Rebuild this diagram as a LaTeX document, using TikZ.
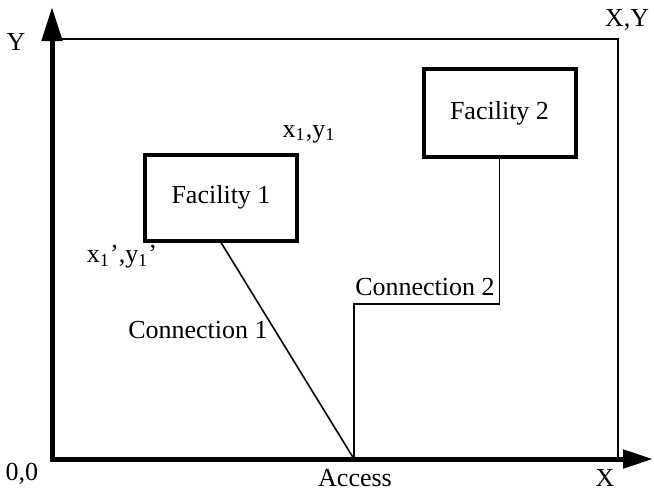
\documentclass[tikz,border=0pt]{standalone}
\usepackage{fontspec}
\setmainfont{Liberation Serif}
\usetikzlibrary{positioning, arrows.meta}

\begin{document}
\begin{tikzpicture}[x=0.5pt, y=-0.5pt, every node/.style={font=\fontsize{13}{15}\selectfont}]
    \useasboundingbox (0,0) rectangle (654,493);

    % Define styles
    \tikzset{
        facility/.style={draw, line width=2pt, minimum width=76pt, minimum height=43pt, inner sep=0pt},
        axis/.style={line width=2.5pt, {Triangle[length=17pt, width=10pt]}-{Triangle[length=15pt, width=9pt]}},
        border/.style={line width=1pt},
        link/.style={line width=0.8pt}
    }

    % Define nodes
	\coordinate (Origin) at (52, 459);
	\coordinate (YEnd) at (52, 7);
	\coordinate (XEnd) at (653, 459);
	\coordinate (TopLeft) at (52, 39);
	\coordinate (TopRight) at (618, 39);
	\coordinate (BottomRight) at (618, 459);
	\coordinate (Access) at (354, 459);
	\coordinate (Bend) at (354, 304);
	\node[facility] (Facility1) at (221, 197.5) {Facility 1};
	\node[facility, minimum height=44pt] (Facility2) at (499.5, 113) {Facility 2};

    % Axis and corner labels
	\node (YLabel) at (16, 42) {Y};
	\node (XLabel) at (605, 478) {X};
	\node (OriginLabel) at (22, 474) {0,0};
	\node (CornerLabel) at (627, 20) {X,Y};
	\node (AccessLabel) at (355, 478) {Access};
	\node (TopCorner) at (309, 134) {x\textsubscript{1},y\textsubscript{1}};
	\node (BottomCorner) at (122, 257) {x\textsubscript{1}',y\textsubscript{1}'};
	\node (Conn1Label) at (198, 330) {Connection 1};
	\node (Conn2Label) at (425, 287) {Connection 2};

    % Draw axes, border and connections
	\draw[axis] (YEnd) -- (Origin) -- (XEnd);
	\draw[border] (TopLeft) -- (TopRight) -- (BottomRight);
	\draw[link] (Facility1.south) -- (Access);
	\draw[link] (Facility2.south) |- (Bend) -- (Access);
\end{tikzpicture}
\end{document}
